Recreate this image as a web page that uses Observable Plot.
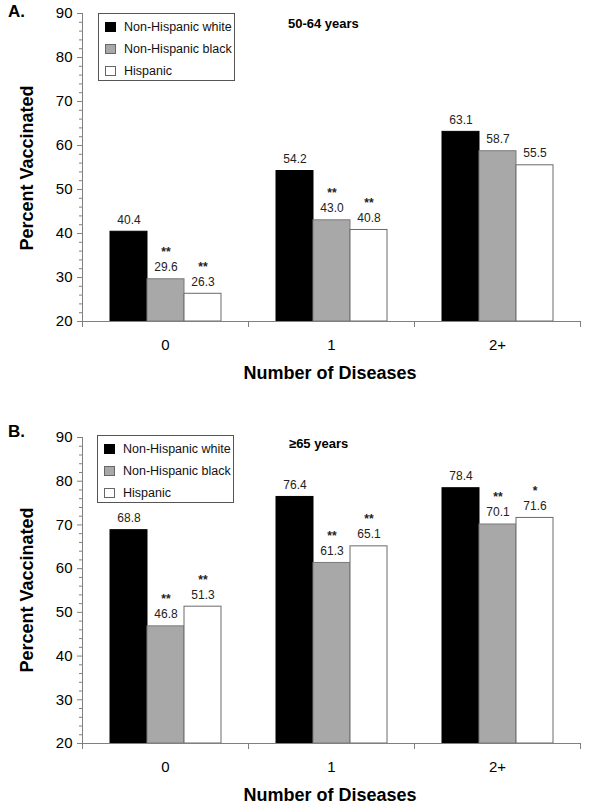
<!DOCTYPE html>
<html>
<head>
<meta charset="utf-8">
<script src="https://cdn.jsdelivr.net/npm/d3@7"></script>
<script src="https://cdn.jsdelivr.net/npm/@observablehq/plot@0.6"></script>
<style>
  html, body { margin: 0; padding: 0; background: #fff; }
  #root { position: relative; width: 603px; height: 807px; font-family: "Liberation Sans", Arial, sans-serif; color: #000; overflow: hidden; }
  .abs { position: absolute; white-space: nowrap; }
  .panelLetter { font-weight: bold; font-size: 17px; }
  .ptitle { font-weight: bold; font-size: 13px; }
  .xtitle { font-weight: bold; font-size: 18px; transform: translate(-50%, -50%); }
  .ytitle { font-weight: bold; font-size: 18px; transform: translate(-50%, -50%) rotate(-90deg); }
  .legend { border: 1px solid #555; background: #fff; box-sizing: border-box; width: 137px; height: 68px; }
  .lrow { position: absolute; left: 6px; height: 14px; display: flex; align-items: center; font-size: 12.5px; color: #111; }
  .sw { width: 11px; height: 10px; box-sizing: border-box; border: 1px solid #666; margin-right: 8px; }
</style>
</head>
<body>
<div id="root"></div>
<script>
// ---- data ----
const diseases = ["0", "1", "2+"];
const groups = ["Non-Hispanic white", "Non-Hispanic black", "Hispanic"];
const yTicks = [20, 30, 40, 50, 60, 70, 80, 90];
const yMinorTicks = [22, 24, 26, 28, 32, 34, 36, 38, 42, 44, 46, 48, 52, 54, 56, 58, 62, 64, 66, 68, 72, 74, 76, 78, 82, 84, 86, 88];
const titleA = "50-64 years";
const titleB = "≥65 years";
const valuesA = [[40.4, 29.6, 26.3], [54.2, 43.0, 40.8], [63.1, 58.7, 55.5]];
const sigA = [["", "**", "**"], ["", "**", "**"], ["", "", ""]];
const valuesB = [[68.8, 46.8, 51.3], [76.4, 61.3, 65.1], [78.4, 70.1, 71.6]];
const sigB = [["", "**", "**"], ["", "**", "**"], ["", "**", "*"]];

// ---- styles ----
const fills = ["#000000", "#a8a8a8", "#ffffff"];
const strokes = ["#000000", "#7a7a7a", "#6a6a6a"];
const axisColor = "#808080";

function rowsOf(values, sig) {
  const rows = [];
  diseases.forEach((d, i) => groups.forEach((g, j) => rows.push({disease: d, group: g, value: values[i][j], sig: sig[i][j]})));
  return rows;
}

function panel(values, sig, opts) {
  const rows = rowsOf(values, sig);
  const innerH = opts.height - opts.marginTop - opts.marginBottom;
  return Plot.plot({
    width: 603,
    height: opts.height,
    marginLeft: 81,
    marginRight: 23,
    marginTop: opts.marginTop,
    marginBottom: opts.marginBottom,
    style: {fontFamily: "'Liberation Sans', Arial, sans-serif", background: "transparent", overflow: "visible"},
    fx: {domain: diseases, padding: 0, axis: null, label: null},
    x: {domain: groups, paddingInner: 0, paddingOuter: 0.743, axis: null, label: null},
    y: {domain: [20, 90], axis: null, label: null},
    marks: [
      ...groups.map((g, i) => Plot.barY(rows.filter(r => r.group === g), {
        fx: "disease", x: "group", y1: 20, y2: "value", fill: fills[i], stroke: strokes[i], strokeWidth: 1
      })),
      Plot.ruleY([20], {stroke: axisColor}),
      Plot.frame({anchor: "left", facetAnchor: "left", stroke: axisColor}),
      Plot.frame({anchor: "left", stroke: axisColor, insetTop: innerH, insetBottom: -5}),
      Plot.frame({anchor: "right", stroke: axisColor, insetTop: innerH, insetBottom: -5}),
      Plot.axisY({ticks: yTicks, tickSize: 5, tickPadding: 5, fontSize: 15, stroke: axisColor, fill: "#000", label: null}),
      Plot.axisY({ticks: yMinorTicks, tickSize: 3, tickFormat: () => "", stroke: axisColor, label: null}),
      Plot.axisFx({anchor: "bottom", tickSize: 0, tickPadding: 18, fontSize: 15, label: null, fill: "#000"}),
      Plot.text(rows, {fx: "disease", x: "group", y: "value", text: d => d.value.toFixed(1), dy: -12, fontSize: 12, fill: "#222"}),
      Plot.text(rows.filter(r => r.sig), {fx: "disease", x: "group", y: "value", text: "sig", dy: -27, fontSize: 12, fontWeight: "bold", fill: "#222"})
    ]
  });
}

const root = document.getElementById("root");
function place(el, top) {
  const w = document.createElement("div");
  w.className = "abs";
  w.style.left = "0px";
  w.style.top = top + "px";
  w.appendChild(el);
  root.appendChild(w);
}
function addText(cls, text, left, top) {
  const el = document.createElement("div");
  el.className = "abs " + cls;
  el.textContent = text;
  el.style.left = left + "px";
  el.style.top = top + "px";
  root.appendChild(el);
  return el;
}
function addLegend(left, top) {
  const box = document.createElement("div");
  box.className = "abs legend";
  box.style.left = left + "px";
  box.style.top = top + "px";
  groups.forEach((g, i) => {
    const row = document.createElement("div");
    row.className = "lrow";
    row.style.top = (6 + i * 22) + "px";
    const sw = document.createElement("div");
    sw.className = "sw";
    sw.style.background = fills[i];
    sw.style.borderColor = i === 0 ? "#000" : "#666";
    const t = document.createElement("span");
    t.textContent = g;
    row.appendChild(sw);
    row.appendChild(t);
    box.appendChild(row);
  });
  root.appendChild(box);
}

place(panel(valuesA, sigA, {height: 400, marginTop: 13, marginBottom: 79}), 0);
place(panel(valuesB, sigB, {height: 404, marginTop: 34, marginBottom: 64}), 403);

addText("panelLetter", "A.", 8, 2);
addText("panelLetter", "B.", 8, 422);
addText("ptitle", titleA, 288, 16);
addText("ptitle", titleB, 289, 436);
addText("xtitle", "Number of Diseases", 330, 373);
addText("xtitle", "Number of Diseases", 330, 795);
addText("ytitle", "Percent Vaccinated", 27, 168);
addText("ytitle", "Percent Vaccinated", 27, 590);
addLegend(98, 13);
addLegend(97, 435);
</script>
</body>
</html>
